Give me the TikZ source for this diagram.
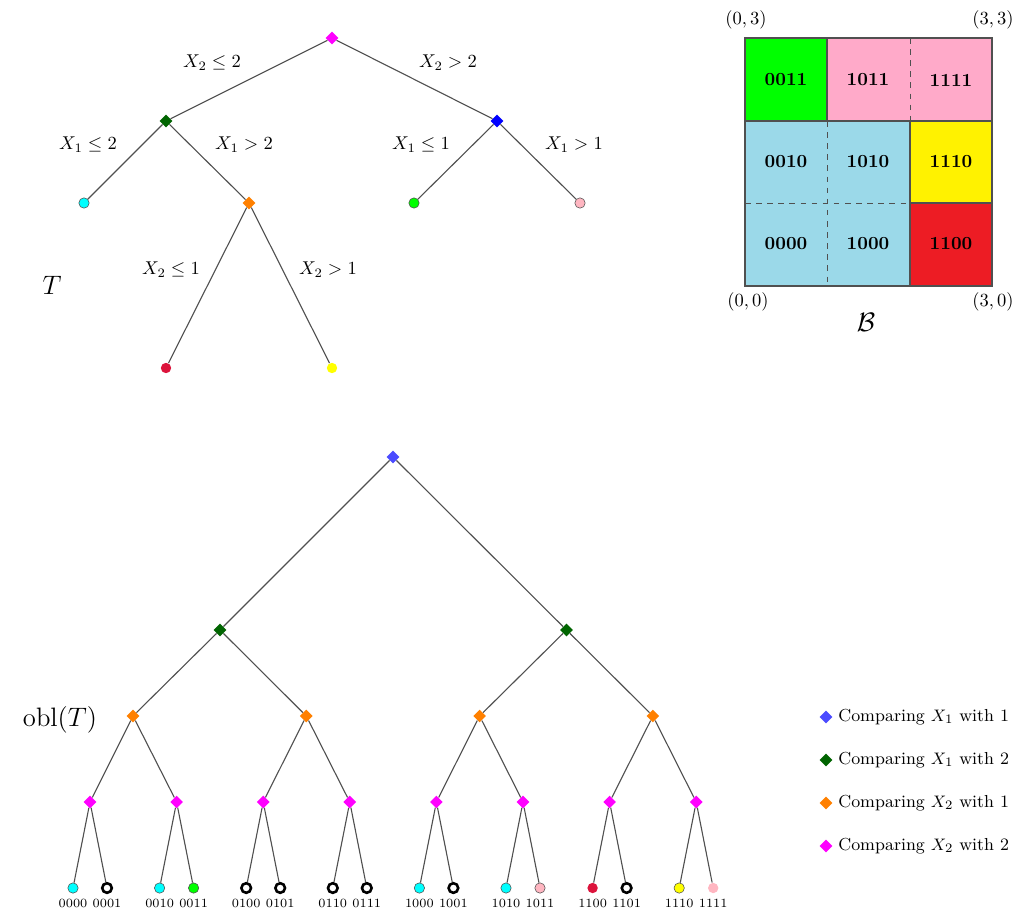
\documentclass[tikz,border=0pt]{standalone}
\usepackage{amssymb}
\usetikzlibrary{shapes.geometric}
\definecolor{cblue}{HTML}{0000FF}
\definecolor{cblueL}{HTML}{4B4BFF}
\definecolor{cdkgreen}{HTML}{006400}
\definecolor{corange}{HTML}{FF8000}
\definecolor{cmagenta}{HTML}{FF00FF}
\definecolor{ccyan}{HTML}{00FFFF}
\definecolor{cgreen}{HTML}{00FF00}
\definecolor{cpink}{HTML}{FFB6C1}
\definecolor{ccrimson}{HTML}{DC143C}
\definecolor{cyellow}{HTML}{FFFF00}
\definecolor{gpink}{HTML}{FFAAC9}
\definecolor{gblue}{HTML}{9BD9E9}
\definecolor{gyellow}{HTML}{FFF200}
\definecolor{gred}{HTML}{ED1C24}
\definecolor{edgegray}{HTML}{505050}
\tikzset{
  dia/.style={diamond, fill=#1, draw=none, minimum size=7pt, inner sep=0pt},
  leafb/.style={circle, fill=#1, draw=edgegray, line width=0.3pt, minimum size=5.6pt, inner sep=0pt},
  leafn/.style={circle, fill=#1, draw=none, minimum size=5.6pt, inner sep=0pt},
  lfcyan/.style={leafb=ccyan},
  lfgreen/.style={leafb=cgreen},
  lfpink/.style={leafb=cpink},
  lfyellow/.style={leafb=cyellow},
  lfpinknb/.style={leafn=cpink},
  lfred/.style={leafn=ccrimson},
  lfempty/.style={circle, fill=white, draw=black, line width=1.4pt, minimum size=5.2pt, inner sep=0pt},
  edge/.style={draw=edgegray, line width=0.6pt},
  lbl/.style={inner sep=1pt, font=\normalsize},
  leaflbl/.style={inner sep=0pt, font=\fontsize{6.8}{7}\selectfont},
  legtxt/.style={anchor=west, inner sep=0pt, font=\fontsize{9.4}{11}\selectfont},
  cell/.style={font=\bfseries},
  grid/.style={draw=edgegray, line width=0.6pt},
  gdash/.style={draw=edgegray, line width=0.5pt, dashed},
}
\begin{document}
\begin{tikzpicture}[x=0.54pt, y=-0.54pt]
\useasboundingbox (0,0) rectangle (1014,911);

% ---------- top tree T ----------
\node[dia=cmagenta] (t0) at (332,38) {};
\node[dia=cdkgreen] (t1) at (166,121) {};
\node[dia=cblue] (t2) at (497,121) {};
\node[lfcyan] (t3) at (84,203) {};
\node[dia=corange] (t4) at (249,203) {};
\node[lfgreen] (t5) at (414,203) {};
\node[lfpink] (t6) at (580,203) {};
\node[lfred] (t7) at (166,368) {};
\node[leafn=cyellow] (t8) at (332,368) {};
\draw[edge] (t0) -- (t1);
\draw[edge] (t0) -- (t2);
\draw[edge] (t1) -- (t3);
\draw[edge] (t1) -- (t4);
\draw[edge] (t2) -- (t5);
\draw[edge] (t2) -- (t6);
\draw[edge] (t4) -- (t7);
\draw[edge] (t4) -- (t8);
\node[lbl] (e1) at (212,63) {$X_2 \leq 2$};
\node[lbl] (e2) at (448,63) {$X_2 > 2$};
\node[lbl] (e3) at (88,145) {$X_1 \leq 2$};
\node[lbl] (e4) at (244,145) {$X_1 > 2$};
\node[lbl] (e5) at (421,145) {$X_1 \leq 1$};
\node[lbl] (e6) at (574,145) {$X_1 > 1$};
\node[lbl] (e7) at (171,270) {$X_2 \leq 1$};
\node[lbl] (e8) at (328,270) {$X_2 > 1$};
\node[font=\Large] (tlab) at (52,285) {$T$};

% ---------- grid B ----------
\fill[cgreen] (745,38) rectangle (827,121);
\fill[gpink] (827,38) rectangle (992,121);
\fill[gblue] (745,121) rectangle (910,286);
\fill[gyellow] (910,121) rectangle (992,203);
\fill[gred] (910,203) rectangle (992,286);
\draw[gdash] (910,38) -- (910,121);
\draw[gdash] (827,121) -- (827,286);
\draw[gdash] (745,203) -- (910,203);
\draw[grid] (827,38) -- (827,121);
\draw[grid] (745,121) -- (992,121);
\draw[grid] (910,121) -- (910,286);
\draw[grid] (910,203) -- (992,203);
\draw[grid] (745,38) rectangle (992,286);
\node[cell] (g1) at (786,80) {0011};
\node[cell] (g2) at (868,80) {1011};
\node[cell] (g3) at (951,80) {1111};
\node[cell] (g4) at (786,162) {0010};
\node[cell] (g5) at (868,162) {1010};
\node[cell] (g6) at (951,162) {1110};
\node[cell] (g7) at (786,244) {0000};
\node[cell] (g8) at (868,244) {1000};
\node[cell] (g9) at (951,244) {1100};
\node (c03) at (746,20) {$(0,3)$};
\node (c33) at (993,20) {$(3,3)$};
\node (c00) at (748,302) {$(0,0)$};
\node (c30) at (993,302) {$(3,0)$};
\node[font=\Large] (blab) at (866,322) {$\mathcal{B}$};

% ---------- bottom tree obl(T) ----------
\node[dia=cblueL] (r) at (393,457) {};
\foreach \k in {0,1} {
  \node[dia=cdkgreen] (a\k) at ({220+346.5*\k},630) {};
  \draw[edge] (r) -- (a\k);
}
\foreach \j in {0,...,3} {
  \pgfmathtruncatemacro{\pa}{int(\j/2)}
  \node[dia=corange] (b\j) at ({133+173.3*\j},716) {};
  \draw[edge] (a\pa) -- (b\j);
}
\foreach \i in {0,...,7} {
  \pgfmathtruncatemacro{\pb}{int(\i/2)}
  \node[dia=cmagenta] (m\i) at ({90+86.6*\i},802) {};
  \draw[edge] (b\pb) -- (m\i);
}
\foreach \n/\lab/\st in {
  0/0000/lfcyan, 1/0001/lfempty, 2/0010/lfcyan, 3/0011/lfgreen,
  4/0100/lfempty, 5/0101/lfempty, 6/0110/lfempty, 7/0111/lfempty,
  8/1000/lfcyan, 9/1001/lfempty, 10/1010/lfcyan, 11/1011/lfpink,
  12/1100/lfred, 13/1101/lfempty, 14/1110/lfyellow, 15/1111/lfpinknb} {
  \pgfmathtruncatemacro{\pm}{int(\n/2)}
  \pgfmathsetmacro{\lx}{90+86.6*\pm+(2*mod(\n,2)-1)*17}
  \node[\st] (l\n) at (\lx,888) {};
  \draw[edge] (m\pm) -- (l\n);
  \node[leaflbl] (ll\n) at (\lx,903) {\lab};
}
\node[font=\Large] (obl) at (60,720) {$\mathrm{obl}(T)$};

% ---------- legend ----------
\node[dia=cblueL] (k1) at (826,717) {};
\node[dia=cdkgreen] (k2) at (826,760) {};
\node[dia=corange] (k3) at (826,803) {};
\node[dia=cmagenta] (k4) at (826,846) {};
\node[legtxt] (k1t) at (838,717) {Comparing $X_1$ with 1};
\node[legtxt] (k2t) at (838,760) {Comparing $X_1$ with 2};
\node[legtxt] (k3t) at (838,803) {Comparing $X_2$ with 1};
\node[legtxt] (k4t) at (838,846) {Comparing $X_2$ with 2};
\end{tikzpicture}
\end{document}
